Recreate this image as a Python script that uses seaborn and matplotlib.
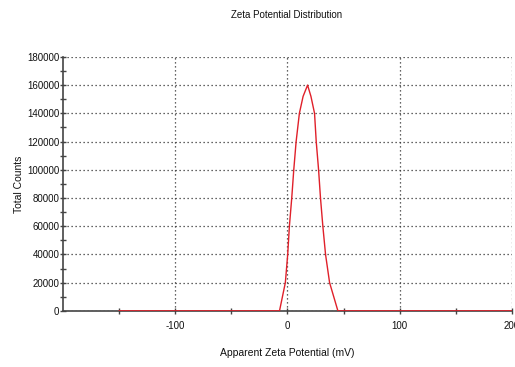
import matplotlib
matplotlib.use("Agg")
import matplotlib.pyplot as plt
import seaborn as sns
import pandas as pd
from matplotlib.ticker import MultipleLocator, FixedLocator

# Data
zeta_mv = [-150, -7, -1.8, 0.3, 1.8, 3.9, 5.7, 7.8, 10.7, 14, 18, 21, 24.2, 25.7, 27.8, 29.5, 31.6, 34, 37.6, 45, 200]
counts = [0, 0, 20000, 40000, 60000, 80000, 100000, 120000, 140000, 152000, 160000, 152000, 140000, 120000, 100000, 80000, 60000, 40000, 20000, 0, 0]
x_tick_labels = ["-100", "0", "100", "200"]
x_major = [-100, 0, 100, 200]
y_major = [0, 20000, 40000, 60000, 80000, 100000, 120000, 140000, 160000, 180000]

sns.set_theme(style="white")
plt.rcParams['font.family'] = ['Liberation Sans', 'DejaVu Sans']

df = pd.DataFrame({"zeta": zeta_mv, "counts": counts})

fig = plt.figure(figsize=(5.15, 3.67), dpi=100)
ax = fig.add_axes([0.122, 0.153, 0.872, 0.692])

ax.set_xlim(-200, 200)
ax.set_ylim(0, 180000)

ax.xaxis.set_major_locator(FixedLocator(x_major))
ax.set_xticklabels(x_tick_labels)
ax.xaxis.set_minor_locator(FixedLocator([-150, -50, 50, 150]))
ax.yaxis.set_major_locator(FixedLocator(y_major))
ax.yaxis.set_minor_locator(MultipleLocator(10000))

ax.grid(True, which="major", color="#333333", linestyle=(0, (1, 2.2)), linewidth=0.9)

for s in ["top", "right"]:
    ax.spines[s].set_visible(False)
for s in ["left", "bottom"]:
    ax.spines[s].set_color("#444444")
    ax.spines[s].set_linewidth(1.2)

ax.tick_params(axis="both", which="major", direction="inout", length=5, width=1, color="#444444",
               labelsize=7, labelcolor="#111111", left=True, bottom=True)
ax.tick_params(axis="y", which="major", pad=0)
ax.tick_params(axis="x", which="major", pad=5)
ax.tick_params(axis="both", which="minor", direction="inout", length=5, width=1, color="#444444",
               left=True, bottom=True)

sns.lineplot(data=df, x="zeta", y="counts", ax=ax, color="#e0202a", linewidth=1.0,
             estimator=None, sort=False, zorder=3)

ax.set_xlabel("Apparent Zeta Potential (mV)", fontsize=7.5, color="#111111", labelpad=12)
ax.set_ylabel("Total Counts", fontsize=7.5, color="#111111", labelpad=2)
fig.text(0.556, 0.958, "Zeta Potential Distribution", ha="center", va="center", fontsize=7, color="#111111")

fig.savefig("out.png", dpi=100)
